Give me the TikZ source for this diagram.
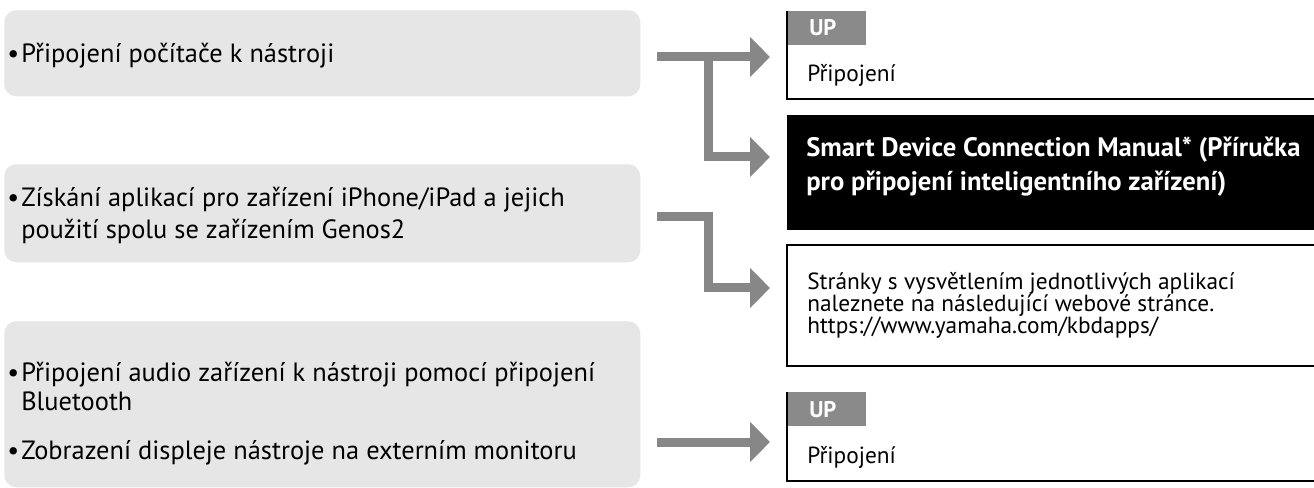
\documentclass[tikz,border=0pt]{standalone}
\usepackage{fontspec}
\setmainfont{PT Sans}
\usetikzlibrary{arrows.meta}
\definecolor{boxgray}{HTML}{E6E6E6}
\definecolor{arrowgray}{HTML}{878787}
\definecolor{tabgray}{HTML}{8A8A8A}
\begin{document}
\begin{tikzpicture}[x=0.75pt,y=-0.75pt,
  graybox/.style={fill=boxgray, rounded corners=9pt, anchor=north west, inner sep=0pt, minimum width={636*0.75pt}},
  lefttxt/.style={anchor=base west, inner sep=0pt, font=\fontsize{19.8pt}{24pt}\selectfont},
  smalltxt/.style={anchor=base west, inner sep=0pt, font=\fontsize{17.5pt}{20pt}\selectfont},
  uptxt/.style={anchor=base west, inner sep=0pt, text=white, font=\fontsize{17pt}{20pt}\selectfont\bfseries},
  bigtxt/.style={anchor=base west, inner sep=0pt, text=white, font=\fontsize{20pt}{24pt}\selectfont\bfseries},
  rbox/.style={anchor=north west, inner sep=0pt, minimum width={527*0.75pt}},
  tab/.style={fill=tabgray, anchor=north west, inner sep=0pt, minimum width={79*0.75pt}, minimum height={34*0.75pt}},
  border/.style={draw=black, line width=1.5pt},
  arr/.style={draw=arrowgray, line width=6.75pt, line join=miter, -{Triangle[length=15pt,width=29.25pt]}}
]
\useasboundingbox (0,0) rectangle (1314,488);
\fill[white] (0,0) rectangle (1314,488);

% left gray boxes
\node[graybox, minimum height={86*0.75pt}] (g1) at (4,10) {};
\node[graybox, minimum height={98*0.75pt}] (g2) at (4,164) {};
\node[graybox, minimum height={166*0.75pt}] (g3) at (4,321) {};

\node[lefttxt] (b1) at (7,63) {•};
\node[lefttxt] (t1) at (21,63) {Připojení počítače k nástroji};
\node[lefttxt] (b2) at (7,207) {•};
\node[lefttxt] (t2a) at (21,207) {Získání aplikací pro zařízení iPhone/iPad a jejich};
\node[lefttxt] (t2b) at (21,239) {použití spolu se zařízením Genos2};
\node[lefttxt] (b3) at (7,381) {•};
\node[lefttxt] (t3a) at (21,381) {Připojení audio zařízení k nástroji pomocí připojení};
\node[lefttxt] (t3b) at (21,410) {Bluetooth};
\node[lefttxt] (b4) at (7,459) {•};
\node[lefttxt] (t3c) at (21,459) {Zobrazení displeje nástroje na externím monitoru};

% right boxes
\node[rbox, minimum height={87*0.75pt}] (r1) at (787,11) {};
\node[tab] (tab1) at (787,11) {};
\draw[border] (r1.north west) -- (r1.south west) -- (r1.south east);
\node[uptxt] (up1) at (809,36) {UP};
\node[smalltxt] (p1) at (807,82) {Připojení};

\node[rbox, fill=black, minimum height={115*0.75pt}] (r2) at (787,115) {};
\node[bigtxt] (s1) at (806,157) {Smart Device Connection Manual* (Příručka};
\node[bigtxt] (s2) at (806,191) {pro připojení inteligentního zařízení)};

\node[rbox, minimum height={120*0.75pt}] (r3) at (787,245) {};
\draw[border] (r3.north east) -- (r3.north west) -- (r3.south west) -- (r3.south east);
\node[smalltxt] (w1) at (807,290) {Stránky s vysvětlením jednotlivých aplikací};
\node[smalltxt] (w2) at (807,312) {naleznete na následující webové stránce.};
\node[smalltxt] (w3) at (807,334) {https://www.yamaha.com/kbdapps/};

\node[rbox, minimum height={88*0.75pt}] (r4) at (787,392) {};
\node[tab] (tab2) at (787,392) {};
\draw[border] (r4.north west) -- (r4.south west) -- (r4.south east);
\node[uptxt] (up2) at (809,417) {UP};
\node[smalltxt] (p2) at (807,463) {Připojení};

% arrows
\coordinate (a1s) at (657,57);
\coordinate (a1j) at (708,57);
\coordinate (a1t) at (770,57);
\coordinate (a2t) at (770,157);
\draw[arr] (a1s) -- (a1t);
\draw[arr] (a1j) |- (a2t);

\coordinate (b1s) at (657,217);
\coordinate (b1k) at (708,217);
\coordinate (b1t) at (770,288);
\draw[arr] (b1s) -- (b1k) |- (b1t);

\coordinate (c1s) at (657,442);
\coordinate (c1t) at (770,442);
\draw[arr] (c1s) -- (c1t);
\end{tikzpicture}
\end{document}
